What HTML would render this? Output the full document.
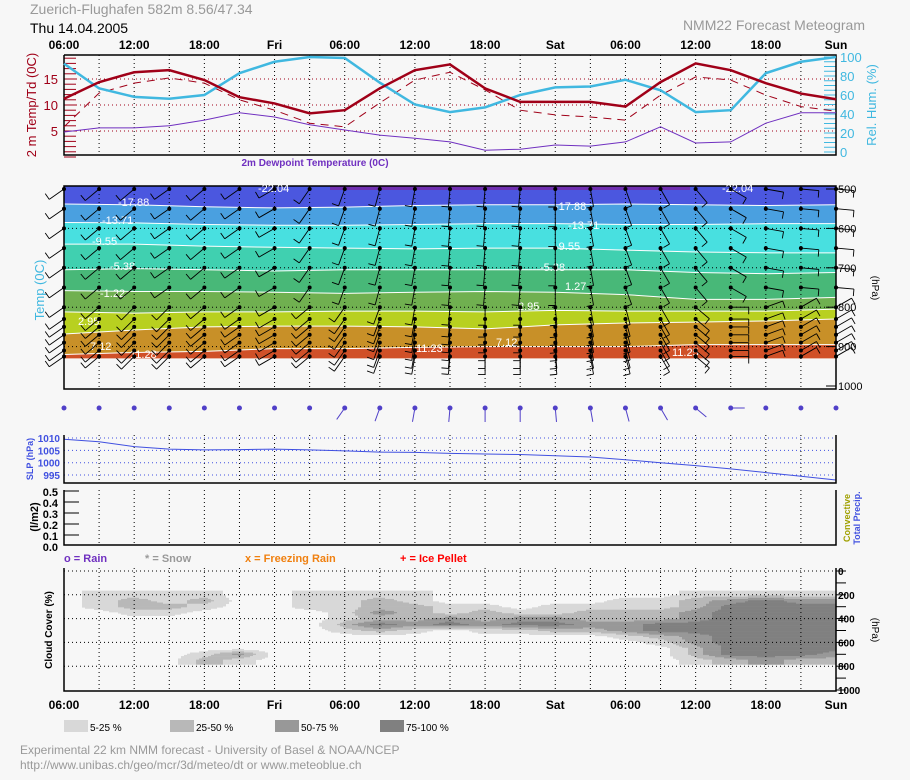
<!DOCTYPE html>
<html><head><meta charset="utf-8"><style>
html,body{margin:0;padding:0;background:#f7f7f7;}
svg{display:block;font-family:"Liberation Sans",sans-serif;}
</style></head><body>
<svg id="m" width="910" height="780" viewBox="0 0 910 780">
<rect width="910" height="780" fill="#f7f7f7"/>
<text x="30" y="14" font-size="14" fill="#999">Zuerich-Flughafen  582m 8.56/47.34</text>
<text x="30" y="33" font-size="14" fill="#000">Thu 14.04.2005</text>
<text x="865" y="30" font-size="14" fill="#999" text-anchor="end">NMM22 Forecast Meteogram</text>
<g id="g"></g>
</svg>
<script>
// ---- data ----
const hours=[0,3,6,9,12,15,18,21,24,27,30,33,36,39,42,45,48,51,54,57,60,63,66];
const timeLabels=["06:00","12:00","18:00","Fri","06:00","12:00","18:00","Sat","06:00","12:00","18:00","Sun"];
const temp2m=[11.2,14.4,16.3,16.7,14.8,11.5,10.3,8.4,9.0,13.2,16.7,17.8,13.2,10.6,10.6,10.6,9.7,14.4,18.0,16.7,14.2,12.2,11.1];
const tempDashed=[5.8,12.3,14.2,15.2,14.2,11.0,9.0,6.5,5.8,10.4,14.8,16.3,12.9,9.0,8.1,7.7,7.1,11.9,15.4,14.8,11.9,9.7,8.8];
const relHum=[93,67,58,56,60,83,95,100,99,73,50,42,47,60,68,69,76,65,42,44,83,95,100];
const dewPoint=[4.8,5.6,5.6,6.0,7.1,8.5,7.7,6.2,5.2,4.2,3.6,2.9,1.3,1.5,2.3,2.1,2.9,5.8,2.7,2.9,6.5,8.5,8.5];
const slp=[1009.5,1008.5,1006.5,1005.5,1005.2,1005.3,1005.5,1005.2,1004.8,1004.3,1004.2,1003.8,1003.5,1003.3,1002.8,1002.3,1001.2,1000,998.8,997.5,996,994.5,993];
const bandHours=[0,6,12,18,24,30,36,42,48,54,60,66];
const bandBounds=[
 [538,540,545,548,546,542,540,540,538,540,542,540],
 [585,586,590,592,592,590,588,588,590,590,588,588],
 [640,640,645,648,650,652,650,650,655,660,662,662],
 [705,702,705,708,705,705,705,705,705,712,715,712],
 [758,760,760,762,765,762,760,762,768,780,780,775],
 [812,815,812,812,810,810,812,808,810,810,810,805],
 [868,858,850,848,848,850,855,845,840,838,835,830],
 [920,915,912,905,905,902,900,900,900,895,895,895]];
const bandColors=["#4b57df","#4aa0e0","#48e0e0","#40d0b0","#48b878","#70b050","#b8d020","#c89028","#d05028"];
const windLevels=[500,550,600,650,700,750,800,830,850,870,890,910,925];
const windDirUpper=[235,230,230,235,230,235,240,215,200,195,190,185,185,185,180,170,160,150,140,120,100,95,95];
const windDirLower=[235,230,225,225,230,235,240,230,215,200,190,185,180,180,175,170,165,150,130,90,70,60,60];
const cloudLevels=[200,250,300,350,400,450,500,550,600,650,700,750];
const cloudCover=[
 [0,1,1,1,1,0,0,1,1,1,1,0,0,0,0,0,0,0,1,1,1,1,1],
 [0,1,2,1,2,0,0,1,1,2,1,0,0,0,0,0,1,1,2,3,4,3,3],
 [0,1,2,2,1,0,0,1,1,2,2,1,1,0,1,1,1,1,2,4,4,4,4],
 [0,0,1,1,0,0,0,0,1,3,2,1,2,1,1,2,2,2,3,4,4,4,4],
 [0,0,0,0,0,0,0,0,1,2,2,3,2,3,3,2,2,2,3,4,4,4,4],
 [0,0,0,0,0,0,0,0,2,4,3,4,3,4,4,3,3,4,4,4,4,4,4],
 [0,0,0,0,0,0,0,0,1,2,1,0,1,1,2,2,3,4,4,4,4,4,4],
 [0,0,0,0,0,0,0,0,0,0,0,0,0,0,0,0,1,2,3,4,4,4,4],
 [0,0,0,0,0,0,0,0,0,0,0,0,0,0,0,0,0,1,3,4,4,4,4],
 [0,0,0,0,0,0,0,0,0,0,0,0,0,0,0,0,0,0,2,4,4,4,4],
 [0,0,0,0,1,3,0,0,0,0,0,0,0,0,0,0,0,0,2,4,4,4,3],
 [0,0,0,0,2,1,0,0,0,0,0,0,0,0,0,0,0,0,1,2,3,2,2]];
const cloudColors=["none","#d8d8d8","#b8b8b8","#989898","#808080"];
// ---- axes ----
const X0=64,X1=836;
const x=h=>X0+h*(X1-X0)/66;
const yT=t=>157-t*5.2;
const yRH=r=>152-r*0.95;
const yP=p=>189+(p-500)*0.394;
const ySLP=p=>438+(1010-p)*2.47;
const yC=p=>571+p*0.119;
const NS="http://www.w3.org/2000/svg";
const G=document.getElementById('g');
function el(t,a,txt){const e=document.createElementNS(NS,t);for(const k in a)e.setAttribute(k,a[k]);if(txt!==undefined)e.textContent=txt;G.appendChild(e);return e;}
function vgrid(y1,y2,name){for(let h=3;h<66;h+=3){const l=el('line',{x1:x(h),x2:x(h),y1:y1,y2:y2,stroke:'#000','stroke-dasharray':'1,3'});

}}
function hline(y,col,name){const l=el('line',{x1:X0,x2:X1,y1:y,y2:y,stroke:col,'stroke-dasharray':'1,3'});

}
function poly(vals,fx,fy,st,name){const p=el('polyline',Object.assign({points:vals.map((v,i)=>fx(i)+','+fy(v)).join(' '),fill:'none'},st));

}
function txt(s,xx,yy,a,name){const t=el('text',Object.assign({x:xx,y:yy},a),s);

return t;}
function timeAxis(yy,name){timeLabels.forEach((s,i)=>{txt(s,x(i*6),yy,{'font-size':12,'font-weight':'bold','text-anchor':'middle'},name);});}

// ---- top panel ----
timeAxis(49,'top-time-label');
vgrid(55,155,'top-grid-line');
[5,10,15].forEach(t=>hline(yT(t),'#a00018','temp-grid-line'));
for(let i=0;i<=19;i++){const l=el('line',{x1:X0,x2:X0+12,y1:yT(i),y2:yT(i),stroke:'#a00018'});}
for(let r=0;r<=100;r+=5){const l=el('line',{x1:X1-12,x2:X1,y1:yRH(r),y2:yRH(r),stroke:'#40b8e0'});}
const tf=el('polyline',{points:`${X0},55 ${X0},155 ${X1},155 ${X1},55 ${X0},55`,fill:'none',stroke:'#000','stroke-width':1.5});
[5,10,15].forEach(t=>txt(String(t),58,yT(t)+5,{'font-size':13,fill:'#a00018','text-anchor':'end'},'temp-tick-label'));
[0,20,40,60,80,100].forEach(r=>txt(String(r),840,yRH(r)+5,{'font-size':13,fill:'#40b8e0'},'rh-tick-label'));
poly(tempDashed,i=>x(hours[i]),yT,{stroke:'#a00018','stroke-width':1,'stroke-dasharray':'8,6'},'td-dashed-line');
poly(dewPoint,i=>x(hours[i]),yT,{stroke:'#7030c0','stroke-width':1},'dewpoint-line');
poly(relHum,i=>x(hours[i]),yRH,{stroke:'#40b8e0','stroke-width':2.5},'rel-hum-line');
poly(temp2m,i=>x(hours[i]),yT,{stroke:'#a00018','stroke-width':2.5},'temp-2m-line');
txt('2 m Temp/Td (0C)',0,0,{'font-size':13,fill:'#a00018','text-anchor':'middle',transform:'translate(36,105) rotate(-90)'},'temp-axis-title');
txt('Rel. Hum. (%)',0,0,{'font-size':13,fill:'#40b8e0','text-anchor':'middle',transform:'translate(876,105) rotate(-90)'},'rh-axis-title');
txt('2m Dewpoint Temperature (0C)',315,166,{'font-size':10,'font-weight':'bold',fill:'#7030c0','text-anchor':'middle'},'dewpoint-title');

// ---- contour panel ----
(function(){
 const top=186,bot=389;
 const bounds=[bandHours.map(()=>500)].concat(bandBounds).concat([bandHours.map(()=>930)]);
 for(let b=0;b<bandColors.length;b++){
  const up=bounds[b],lo=bounds[b+1];
  let pts=bandHours.map((h,i)=>x(h)+','+(b===0?top:yP(up[i])));
  pts=pts.concat(bandHours.slice().reverse().map((h,j)=>{const i=bandHours.length-1-j;return x(h)+','+yP(lo[i]);}));
  const p=el('polygon',{points:pts.join(' '),fill:bandColors[b]});
  
  
  if(b>0){const l=el('polyline',{points:bandHours.map((h,i)=>x(h)+','+yP(up[i])).join(' '),fill:'none',stroke:'#fff','stroke-width':1});
  
  }
 }
 const pur=el('rect',{x:330,y:186,width:360,height:4,fill:'#7030b0'});
 vgrid(top,bot,'contour-grid-line');
 [600,700,800,900].forEach(p=>hline(yP(p),'#000','pressure-grid-line'));
 const fr=el('rect',{x:X0,y:top,width:X1-X0,height:bot-top,fill:'none',stroke:'#000','stroke-width':1.5});
 [500,600,700,800,900,1000].forEach(p=>{txt(String(p),838,yP(p)+4,{'font-size':11},'pressure-tick-label');
  const t=el('line',{x1:X1-10,x2:X1,y1:yP(p),y2:yP(p),stroke:'#000'});});
 txt('(hPa)',0,0,{'font-size':10,'text-anchor':'middle',transform:'translate(872,288) rotate(90)'},'pressure-axis-title');
 txt('Temp (0C)',0,0,{'font-size':13,fill:'#40b8e0','text-anchor':'middle',transform:'translate(44,290) rotate(-90)'},'temp-contour-title');
 [["-22.04",258,192],["-17.88",118,206],["-13.71",102,224],["-9.55",92,245],["-5.38",110,270],["-1.22",100,297],["2.95",78,325],["7.12",90,350],["11.28",130,358],["-17.88",555,210],["-13.71",568,229],["-9.55",555,250],["-5.38",540,271],["1.27",565,290],["2.95",518,310],["7.12",496,346],["11.23",416,352],["11.25",672,356],["-22.04",722,192]].forEach(a=>txt(a[0],a[1],a[2],{'font-size':11,fill:'#fff'},'isotherm-label'));
 hours.forEach((h,i)=>{
  const cx=x(h);
  windLevels.forEach((p,k)=>{
   const dir=(p<760?windDirUpper[i]:windDirLower[i])*Math.PI/180;
   const cy=yP(p),L=18;
   const ex=cx+L*Math.sin(dir),ey=cy-L*Math.cos(dir);
   const s=el('line',{x1:cx,y1:cy,x2:ex,y2:ey,stroke:'#000','stroke-width':0.9});
   
   
   const bx=ex+7*Math.sin(dir+1.57),by=ey-7*Math.cos(dir+1.57);
   const f=el('line',{x1:ex,y1:ey,x2:bx,y2:by,stroke:'#000','stroke-width':0.9});
   
   
   const d=el('circle',{cx:cx,cy:cy,r:2,fill:'#000'});
   
   
  });
  const sd=windDirLower[i]*Math.PI/180;
  const sdot=el('circle',{cx:cx,cy:408,r:2.5,fill:'#5040c8'});
  
  
  if(h>=24&&h<=57){const sl=el('line',{x1:cx,y1:408,x2:cx+14*Math.sin(sd),y2:408-14*Math.cos(sd),stroke:'#5040c8'});
  
  }
 });
})();

// ---- SLP panel ----
vgrid(435,483,'slp-grid-line');
[1010,1005,1000,995].forEach(p=>{hline(ySLP(p),'#4050e0','slp-grid-line');txt(String(p),60,ySLP(p)+4,{'font-size':10,'font-weight':'bold',fill:'#4050e0','text-anchor':'end'},'slp-tick-label');});
poly(slp,i=>x(hours[i]),ySLP,{stroke:'#4050e0','stroke-width':1},'slp-line');
el('polyline',{points:`${X0},435 ${X0},483 ${X1},483 ${X1},435`,fill:'none',stroke:'#000','stroke-width':1.5,});
txt('SLP (hPa)',0,0,{'font-size':9,'font-weight':'bold',fill:'#4050e0','text-anchor':'middle',transform:'translate(33,459) rotate(-90)'},'slp-axis-title');

// ---- precip panel ----
vgrid(490,545,'precip-grid-line');
el('polyline',{points:`${X0},490 ${X0},545 ${X1},545 ${X1},490`,fill:'none',stroke:'#000','stroke-width':1.5,});
["0.5","0.4","0.3","0.2","0.1","0.0"].forEach((s,i)=>{const yy=491+i*11;txt(s,58,yy+5,{'font-size':11,'font-weight':'bold','text-anchor':'end'},'precip-tick-label');
 if(i<5){const t=el('line',{x1:X0,x2:X0+15,y1:yy,y2:yy,stroke:'#000'});}});
txt('(l/m2)',0,0,{'font-size':11,'font-weight':'bold','text-anchor':'middle',transform:'translate(38,517) rotate(-90)'},'precip-axis-title');
txt('Convective',0,0,{'font-size':9,'font-weight':'bold',fill:'#a0a000','text-anchor':'middle',transform:'translate(850,518) rotate(-90)'},'convective-label');
txt('Total Precip.',0,0,{'font-size':9,'font-weight':'bold',fill:'#4050e0','text-anchor':'middle',transform:'translate(860,518) rotate(-90)'},'total-precip-label');
txt('o = Rain',64,562,{'font-size':11,'font-weight':'bold',fill:'#7030c0'},'legend-rain');
txt('* = Snow',145,562,{'font-size':11,'font-weight':'bold',fill:'#999'},'legend-snow');
txt('x = Freezing Rain',245,562,{'font-size':11,'font-weight':'bold',fill:'#f08010'},'legend-freezing-rain');
txt('+ = Ice Pellet',400,562,{'font-size':11,'font-weight':'bold',fill:'#f00'},'legend-ice-pellet');

// ---- cloud panel (bilinear-smoothed from grid) ----
(function(){
 function val(h,p){
  const fc=Math.max(0,Math.min(hours.length-1,h/3)), fr=(p-cloudLevels[0])/50;
  if(fr<-0.6||fr>cloudLevels.length-0.4) return 0;
  const r=Math.max(0,Math.min(cloudLevels.length-1,fr));
  const c0=Math.floor(fc),c1=Math.min(hours.length-1,c0+1),tc=fc-c0;
  const r0=Math.floor(r),r1=Math.min(cloudLevels.length-1,r0+1),tr=r-r0;
  const a=cloudCover[r0][c0]*(1-tc)+cloudCover[r0][c1]*tc;
  const b=cloudCover[r1][c0]*(1-tc)+cloudCover[r1][c1]*tc;
  return a*(1-tr)+b*tr;
 }
 const step=3;
 for(let p=170;p<=790;p+=10){
  let runStart=X0,runCls=-1;
  const flush=(xe)=>{if(runCls>0){const rc=el('rect',{x:runStart,y:yC(p-5),width:xe-runStart,height:yC(p+5)-yC(p-5)+0.3,fill:cloudColors[runCls]});
   
   }};
  for(let px=X0;px<X1;px+=step){
   const h=(px+step/2-X0)*66/(X1-X0);
   const v=val(h,p);const cls=v<0.5?0:Math.min(4,Math.round(v));
   if(cls!==runCls){flush(px);runStart=px;runCls=cls;}
  }
  flush(X1);
 }
})();
vgrid(568,690,'cloud-grid-line');
[0,200,400,600,800].forEach(p=>hline(yC(p),'#000','cloud-grid-line'));
el('polyline',{points:`${X0},568 ${X0},691 ${X1},691 ${X1},568`,fill:'none',stroke:'#000','stroke-width':1.5,});
[0,100,200,300,400,500,600,700,800,900,1000].forEach(p=>{const t=el('line',{x1:X1,x2:X1+10,y1:yC(p),y2:yC(p),stroke:'#000'});});
[0,200,400,600,800,1000].forEach(p=>txt(String(p),838,yC(p)+4,{'font-size':10,'font-weight':'bold'},'cloud-p-label'));
txt('(hPa)',0,0,{'font-size':10,'text-anchor':'middle',transform:'translate(872,630) rotate(90)'},'cloud-pressure-title');
txt('Cloud Cover (%)',0,0,{'font-size':10,'font-weight':'bold','text-anchor':'middle',transform:'translate(52,630) rotate(-90)'},'cloud-axis-title');
timeAxis(709,'bottom-time-label');
[["5-25 %",64,"#d8d8d8"],["25-50 %",170,"#b8b8b8"],["50-75 %",275,"#989898"],["75-100 %",380,"#808080"]].forEach((a,i)=>{
 const r=el('rect',{x:a[1],y:720,width:24,height:12,fill:a[2]});
 
 
 txt(a[0],a[1]+26,731,{'font-size':10},'cloud-legend-label');});
txt('Experimental 22 km NMM forecast  - University of Basel & NOAA/NCEP',20,754,{'font-size':12,fill:'#999'},'footer-credit');
txt('http://www.unibas.ch/geo/mcr/3d/meteo/dt   or   www.meteoblue.ch',20,769,{'font-size':12,fill:'#999'},'footer-url');
</script>
</body></html>
